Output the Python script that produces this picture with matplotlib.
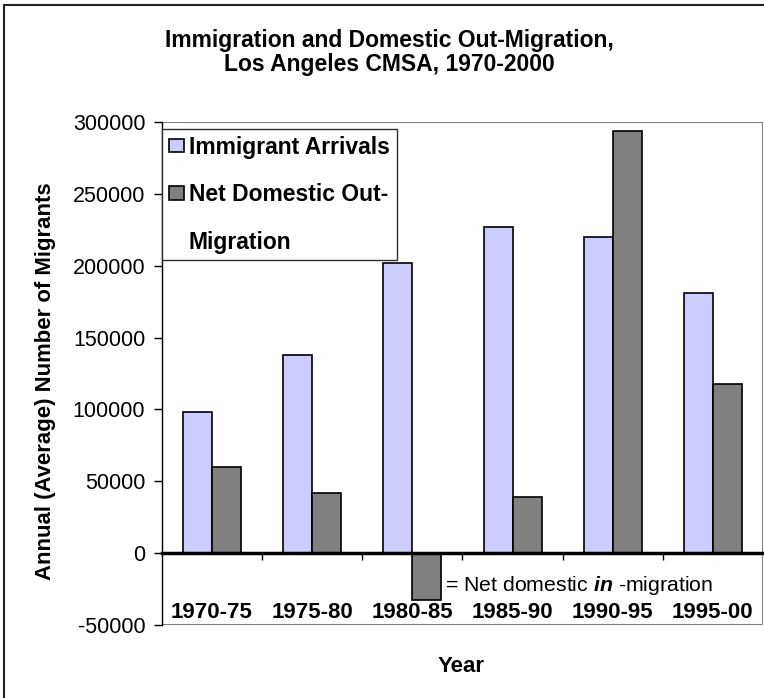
import matplotlib
matplotlib.use('Agg')
import matplotlib.pyplot as plt
from matplotlib.patches import Patch, Rectangle

plt.rcParams['font.family'] = ['Liberation Sans', 'DejaVu Sans']
plt.rcParams['mathtext.fontset'] = 'custom'
plt.rcParams['mathtext.rm'] = 'Liberation Sans'
plt.rcParams['mathtext.bf'] = 'Liberation Sans:italic:bold'

# values
periods = ['1970-75', '1975-80', '1980-85', '1985-90', '1990-95', '1995-00']
immigrants = [98500, 138000, 202000, 227000, 220000, 181000]
net_domestic_out = [60000, 41500, -32500, 39000, 294000, 118000]
yticks = [-50000, 0, 50000, 100000, 150000, 200000, 250000, 300000]

fig = plt.figure(figsize=(7.64, 6.98), dpi=100)
ax = fig.add_axes([0.212, 0.1046, 0.7867, 0.7206])

# outer chart border (cropped at right and bottom)
fig.patches.append(Rectangle((0.0055, -0.1), 1.2, 1.0928, transform=fig.transFigure,
                             fill=False, edgecolor='#202020', linewidth=1.5))

x = list(range(len(periods)))
w = 0.29
b1 = ax.bar([i - w / 2 for i in x], immigrants, w, color='#CCCCFF',
            edgecolor='black', linewidth=1.2, zorder=3)
b2 = ax.bar([i + w / 2 for i in x], net_domestic_out, w, color='#808080',
            edgecolor='black', linewidth=1.2, zorder=3)

ax.set_xlim(-0.5, len(periods) - 0.5)
ax.set_ylim(yticks[0], yticks[-1])
ax.set_yticks(yticks)
ax.set_yticklabels([str(v) for v in yticks], fontsize=15.5)
ax.tick_params(axis='y', direction='out', length=6, width=1, pad=6)

# category axis sits on zero
ax.spines['bottom'].set_position(('data', 0))
ax.spines['bottom'].set_linewidth(2.5)
ax.spines['bottom'].set_zorder(4)
ax.spines['top'].set_visible(False)
ax.spines['right'].set_visible(False)
ax.spines['left'].set_linewidth(1)
ax.set_xticks([i + 0.5 for i in x[:-1]])
ax.set_xticklabels([])
ax.tick_params(axis='x', direction='out', length=5, width=1)

# gray plot-area frame
ax.add_patch(Rectangle((0, 0), 1, 1, transform=ax.transAxes, fill=False,
                       edgecolor='#808080', linewidth=1.5, zorder=1))

for i, p in enumerate(periods):
    ax.text(i, -41500, p, ha='center', va='center', fontsize=16, fontweight='bold')

ax.text(2.33, -22300, r'= Net domestic $\mathbf{in}$ -migration', ha='left',
        va='center', fontsize=15.3)

fig.text(46 / 764, 1 - 381 / 698, 'Annual (Average) Number of Migrants',
         rotation=90, ha='center', va='center', fontsize=15.9, fontweight='bold')
fig.text(461 / 764, 1 - 666 / 698, 'Year', ha='center', va='center',
         fontsize=16, fontweight='bold')
fig.text(389 / 764, 1 - 40 / 698, 'Immigration and Domestic Out-Migration,',
         ha='center', va='center', fontsize=16.5, fontweight='bold')
fig.text(389 / 764, 1 - 65 / 698, 'Los Angeles CMSA, 1970-2000',
         ha='center', va='center', fontsize=16.5, fontweight='bold')

handles = [b1[0], b2[0], Patch(facecolor='none', edgecolor='none')]
labels = ['Immigrant Arrivals', 'Net Domestic Out-', 'Migration']
leg = ax.legend(handles, labels, loc='upper left', bbox_to_anchor=(0, 0.986),
                borderaxespad=0, prop={'weight': 'bold', 'size': 16.5},
                handlelength=0.65, handleheight=0.52, handletextpad=0.22,
                labelspacing=1.06, borderpad=0.3, fancybox=False,
                framealpha=1, edgecolor='#303030')
leg.get_frame().set_linewidth(1)
leg.set_zorder(5)

fig.savefig('out.png', dpi=100)
